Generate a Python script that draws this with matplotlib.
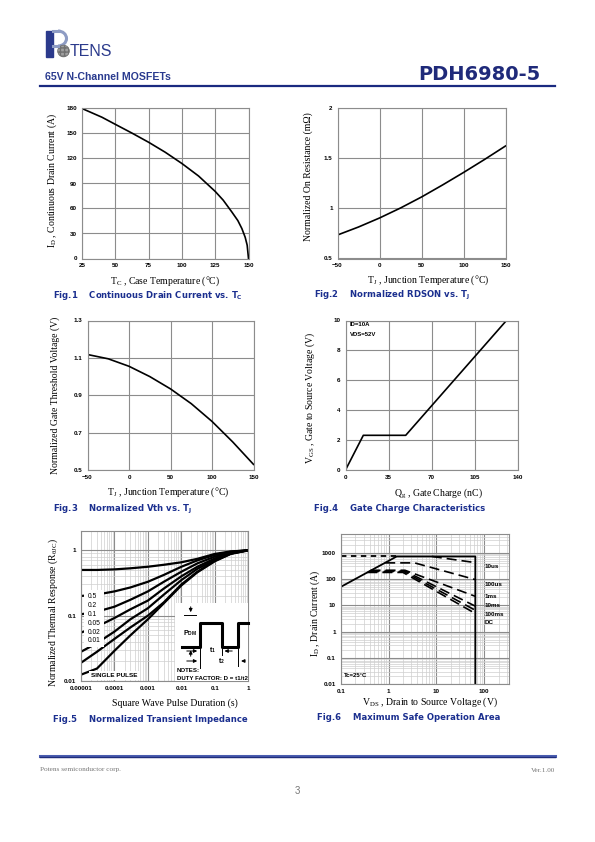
import matplotlib
matplotlib.use('Agg')
from matplotlib import pyplot as plt
from matplotlib.patches import Rectangle, Circle, Arc
from matplotlib.ticker import LogLocator, NullFormatter

plt.rcParams['font.family'] = ['Liberation Sans', 'DejaVu Sans']
plt.rcParams['mathtext.fontset'] = 'custom'
plt.rcParams['mathtext.rm'] = 'Liberation Serif'
plt.rcParams['mathtext.it'] = 'Liberation Serif:italic'
plt.rcParams['mathtext.bf'] = 'DejaVu Sans:bold'
plt.rcParams['mathtext.sf'] = 'Liberation Sans:bold'

# Fig.1 continuous drain current vs case temperature
tc = [25, 40, 50, 62.5, 75, 87.5, 100, 112.5, 125, 131, 137.5, 142, 145, 147.5, 149, 150]
id_cont = [180, 169.5, 161, 150.5, 139.5, 127.5, 114, 99, 80.5, 70, 55.8, 45.5, 36, 25.5, 16, 0]

# Fig.2 normalized RDSON / Fig.3 normalized Vth vs junction temperature
tj = [-50, -25, 0, 25, 50, 75, 100, 125, 150]
rdson = [0.735, 0.815, 0.905, 1.005, 1.115, 1.235, 1.36, 1.49, 1.625]
vth = [1.118, 1.095, 1.055, 1.0, 0.934, 0.855, 0.76, 0.65, 0.53]

# Fig.4 gate charge
qg = [0, 14.5, 49, 131]
vgs = [0, 2.32, 2.32, 10]

# Fig.5 transient thermal impedance
t_pulse = [1e-5, 3e-5, 1e-4, 3e-4, 1e-3, 3e-3, 1e-2, 3e-2, 0.1, 0.3, 1]
z_d05 = [0.50, 0.50, 0.51, 0.53, 0.56, 0.60, 0.655, 0.74, 0.88, 0.96, 1.0]
z_d02 = [0.20, 0.21, 0.235, 0.27, 0.33, 0.42, 0.56, 0.70, 0.85, 0.95, 1.0]
z_d01 = [0.105, 0.115, 0.137, 0.175, 0.235, 0.33, 0.47, 0.63, 0.80, 0.93, 1.0]
z_d005 = [0.055, 0.068, 0.092, 0.125, 0.17, 0.26, 0.40, 0.56, 0.75, 0.91, 1.0]
z_d002 = [0.028, 0.038, 0.057, 0.088, 0.13, 0.21, 0.35, 0.52, 0.71, 0.89, 1.0]
z_d001 = [0.019, 0.028, 0.044, 0.066, 0.10, 0.16, 0.30, 0.47, 0.69, 0.89, 1.0]
z_single = [0.0125, 0.0155, 0.029, 0.05, 0.088, 0.155, 0.29, 0.46, 0.68, 0.88, 1.0]
duty_labels = ['0.5', '0.2', '0.1', '0.05', '0.02', '0.01']

# Fig.6 safe operating area
soa_v = [0.1, 1.48, 65, 65]
soa_i = [50, 720, 720, 0.01]
top_v = [0.1, 1.48]
top_i = [720, 720]
v_10us, i_10us = [8, 65], [720, 420]
v_100us, i_100us = [0.85, 3.5, 65], [410, 410, 95]
v_1ms, i_1ms = [0.42, 2.2, 65], [215, 215, 22]
v_10ms, i_10ms = [0.40, 2.2, 65], [200, 200, 9.3]
v_100ms, i_100ms = [0.38, 2.1, 65], [190, 190, 6.5]
v_dc, i_dc = [0.36, 2.0, 65], [178, 178, 4.9]
soa_labels = ['10us', '100us', '1ms', '10ms', '100ms', 'DC']

W, H = 595, 842
fig = plt.figure(figsize=(W / 100, H / 100), dpi=100)

NAVY = '#1b2f8f'
GRID = '#8c8c8c'
SERIF = ['Liberation Serif', 'DejaVu Serif', 'DejaVu Sans']

bg = fig.add_axes([0, 0, 1, 1])
bg.set_xlim(0, W)
bg.set_ylim(H, 0)
bg.axis('off')


def axes_px(l, t, r, b):
    return fig.add_axes([l / W, 1 - b / H, (r - l) / W, (b - t) / H])


def txt(x, y, s, **kw):
    kw.setdefault('va', 'center')
    return fig.text(x / W, 1 - y / H, s, **kw)


def style(ax, minor=False):
    for s in ax.spines.values():
        s.set_color(GRID)
        s.set_linewidth(0.8)
    ax.tick_params(which='both', length=0, pad=3.5, labelsize=4.5)
    for lab in ax.get_xticklabels() + ax.get_yticklabels():
        lab.set_fontweight('bold')
    ax.grid(which='major', color=GRID, lw=0.8)
    if minor:
        ax.grid(which='minor', color='#cfcfcf', lw=0.5)
    ax.set_axisbelow(True)


def caption(x, y, s):
    txt(x, y, s, fontsize=6.1, fontweight='bold', color=NAVY, family='DejaVu Sans')


def ylab(x, y, s):
    txt(x, y, s, rotation=90, ha='center', fontsize=7, family=SERIF)


def xlab(x, y, s):
    txt(x, y, s, ha='center', fontsize=7, family=SERIF)


# header
bg.add_patch(Rectangle((46, 31), 6.5, 26, color='#2b3a8c'))
bg.add_patch(Arc((58, 38.5), 17, 15, theta1=-90, theta2=90, color='#8e9cc4', lw=2.2))
bg.plot([52.5, 58], [31, 31], color='#8e9cc4', lw=2.2)
bg.plot([52.5, 58], [46, 46], color='#8e9cc4', lw=2.2)
bg.add_patch(Circle((63.5, 51), 5.8, fc='#a0a0a0', ec='#707070', lw=0.6, hatch='++++'))
txt(69.5, 51, 'TENS', fontsize=11.5, color='#2b3a8c')
txt(45, 76.5, '65V N-Channel MOSFETs', fontsize=7.6, fontweight='bold', color='#2a3b8f')
txt(541, 74, 'PDH6980-5', ha='right', fontsize=14, fontweight='bold', color='#1f2a7a',
    family='DejaVu Sans')
bg.plot([40, 555], [86, 86], color='#1a2a80', lw=1.6)

# Fig.1
ax1 = axes_px(82, 108.5, 248.5, 258.5)
ax1.plot(tc, id_cont, color='black', lw=1.2)
ax1.set_xlim(25, 150)
ax1.set_ylim(0, 180)
ax1.set_xticks([25, 50, 75, 100, 125, 150])
ax1.set_yticks([0, 30, 60, 90, 120, 150, 180])
style(ax1)
ylab(52, 180, r'I$_\mathrm{D}$ , Continuous Drain Current (A)')
xlab(165, 281.5, r'T$_\mathrm{C}$ , Case Temperature (°C)')
caption(53, 295, r'Fig.1    Continuous Drain Current vs. T$_\mathbf{C}$')

# Fig.2
ax2 = axes_px(337.5, 108.5, 505.5, 258.5)
ax2.plot(tj, rdson, color='black', lw=1.2)
ax2.set_xlim(-50, 150)
ax2.set_ylim(0.5, 2)
ax2.set_xticks([-50, 0, 50, 100, 150])
ax2.set_yticks([0.5, 1, 1.5, 2])
ax2.set_yticklabels(['0.5', '1', '1.5', '2'])
style(ax2)
ylab(308, 177, 'Normalized On Resistance (mΩ)')
xlab(428, 280, r'T$_\mathrm{J}$ , Junction Temperature (°C)')
caption(314, 295, r'Fig.2    Normalized RDSON vs. T$_\mathbf{J}$')

# Fig.3
ax3 = axes_px(87.5, 320.5, 253.5, 470)
ax3.plot(tj, vth, color='black', lw=1.2)
ax3.set_xlim(-50, 150)
ax3.set_ylim(0.5, 1.3)
ax3.set_xticks([-50, 0, 50, 100, 150])
ax3.set_yticks([0.5, 0.7, 0.9, 1.1, 1.3])
style(ax3)
ylab(55, 395, 'Normalized Gate Threshold Voltage (V)')
xlab(168, 492.5, r'T$_\mathrm{J}$ , Junction Temperature (°C)')
caption(53, 508.5, r'Fig.3    Normalized Vth vs. T$_\mathbf{J}$')

# Fig.4
ax4 = axes_px(345.5, 320.5, 517.5, 470)
ax4.plot(qg, vgs, color='black', lw=1.2)
ax4.set_xlim(0, 140)
ax4.set_ylim(0, 10)
ax4.set_xticks([0, 35, 70, 105, 140])
ax4.set_yticks([0, 2, 4, 6, 8, 10])
style(ax4)
txt(350, 325, 'ID=10A', fontsize=4.3, fontweight='bold')
txt(350, 334, 'VDS=52V', fontsize=4.3, fontweight='bold')
ylab(310, 398, r'V$_\mathrm{GS}$ , Gate to Source Voltage (V)')
xlab(438, 492.5, r'Q$_\mathrm{g}$ , Gate Charge (nC)')
caption(314, 508.5, 'Fig.4    Gate Charge Characteristics')

# Fig.5
ax5 = axes_px(81, 530.6, 248.3, 681)
for z in [z_d05, z_d02, z_d01, z_d005, z_d002, z_d001, z_single]:
    ax5.plot(t_pulse, z, color='black', lw=1.6, zorder=2)
ax5.set_xscale('log')
ax5.set_yscale('log')
ax5.set_xlim(1e-5, 1)
ax5.set_ylim(0.01, 2)
ax5.set_xticks([1e-5, 1e-4, 1e-3, 1e-2, 1e-1, 1])
ax5.set_xticklabels(['0.00001', '0.0001', '0.001', '0.01', '0.1', '1'])
ax5.set_yticks([0.01, 0.1, 1])
ax5.set_yticklabels(['0.01', '0.1', '1'])
for a in (ax5.xaxis, ax5.yaxis):
    a.set_minor_locator(LogLocator(base=10, subs=range(2, 10), numticks=20))
    a.set_minor_formatter(NullFormatter())
style(ax5, minor=True)
ax5.add_patch(Rectangle((1.25e-5, 0.033), 5e-5 - 1.25e-5, 0.25 - 0.033,
                        fc='white', ec='none', zorder=3))
for lab, yy in zip(duty_labels, [596.5, 605.5, 614.5, 623.5, 632, 641]):
    txt(88, yy, lab, fontsize=4.8)
txt(91, 675.5, 'SINGLE PULSE', fontsize=4.6, fontweight='bold',
    bbox=dict(fc='white', ec='none', pad=1.2))

ins = axes_px(175, 603, 248.3, 681)
ins.set_xlim(175, 248.3)
ins.set_ylim(681, 603)
ins.set_xticks([])
ins.set_yticks([])
for s in ins.spines.values():
    s.set_visible(False)
ins.plot([182, 200, 200, 221.7, 221.7, 238.3, 238.3, 248],
         [646.7, 646.7, 623.3, 623.3, 646.7, 646.7, 623.3, 623.3],
         color='black', lw=2.2, clip_on=False)
arr = dict(arrowstyle='-|>', color='black', lw=0.7, mutation_scale=5)
ins.annotate('', xy=(190.7, 615), xytext=(190.7, 604), arrowprops=arr)
ins.plot([184, 196], [615, 615], color='black', lw=0.7)
ins.annotate('', xy=(190.7, 647.5), xytext=(190.7, 659), arrowprops=arr)
ins.plot([200, 200], [647, 668], color='black', lw=0.7)
ins.plot([221.7, 221.7], [647, 655], color='black', lw=0.7)
ins.plot([238.3, 238.3], [647, 666], color='black', lw=0.7)
ins.annotate('', xy=(200, 651), xytext=(184, 651), arrowprops=arr)
ins.annotate('', xy=(221.7, 651), xytext=(235, 651), arrowprops=arr)
ins.annotate('', xy=(200, 661), xytext=(184, 661), arrowprops=arr)
ins.annotate('', xy=(238.3, 661), xytext=(248, 661), arrowprops=arr)
ins.text(183, 633, r'P$_\mathsf{DM}$', fontsize=5, fontweight='bold', va='center')
ins.text(209, 650.5, r't$_\mathsf{1}$', fontsize=5, fontweight='bold', va='center')
ins.text(218, 661, r't$_\mathsf{2}$', fontsize=5, fontweight='bold', va='center')
ins.text(177, 671, 'NOTES:', fontsize=4.4, fontweight='bold', va='center')
ins.text(177, 679, 'DUTY FACTOR: D = t1/t2', fontsize=4.4, fontweight='bold', va='center')

ylab(53, 612, r'Normalized Thermal Response (R$_{\mathrm{θJC}}$)')
xlab(175, 703, 'Square Wave Pulse Duration (s)')
caption(53, 719, 'Fig.5    Normalized Transient Impedance')

# Fig.6
ax6 = axes_px(340.7, 534.3, 509.3, 684.3)
ax6.plot(soa_v, soa_i, color='black', lw=1.3)
ax6.plot(top_v, top_i, color='black', lw=1.3, ls=(0, (3, 2.5)))
for v, i in [(v_10us, i_10us), (v_100us, i_100us), (v_1ms, i_1ms),
             (v_10ms, i_10ms), (v_100ms, i_100ms), (v_dc, i_dc)]:
    ax6.plot(v, i, color='black', lw=1.2, ls=(0, (6, 3)))
ax6.set_xscale('log')
ax6.set_yscale('log')
ax6.set_xlim(0.1, 333)
ax6.set_ylim(0.01, 5000)
ax6.set_xticks([0.1, 1, 10, 100])
ax6.set_xticklabels(['0.1', '1', '10', '100'])
ax6.set_yticks([0.01, 0.1, 1, 10, 100, 1000])
ax6.set_yticklabels(['0.01', '0.1', '1', '10', '100', '1000'])
for a in (ax6.xaxis, ax6.yaxis):
    a.set_minor_locator(LogLocator(base=10, subs=range(2, 10), numticks=20))
    a.set_minor_formatter(NullFormatter())
style(ax6, minor=True)
for lab, yy in zip(soa_labels, [566.5, 584, 597, 605.5, 614, 622.5]):
    txt(485, yy, lab, fontsize=4.5, fontweight='bold')
txt(344, 675.5, 'Tc=25°C', fontsize=4.3, fontweight='bold')
ylab(315, 613, r'I$_\mathrm{D}$ , Drain Current (A)')
xlab(430, 702.5, r'V$_\mathrm{DS}$ , Drain to Source Voltage (V)')
caption(317, 717.5, 'Fig.6    Maximum Safe Operation Area')

# footer
bg.plot([40, 555], [755.5, 755.5], color='#4a5db0', lw=2.2)
bg.plot([40, 555], [757.2, 757.2], color='#1f2c7c', lw=1.0)
txt(40, 770, 'Potens semiconductor corp.', fontsize=5.2, color='#777777', family=SERIF)
txt(555, 770, 'Ver.1.00', ha='right', fontsize=5.2, color='#777777', family=SERIF)
txt(297.5, 791, '3', ha='center', fontsize=7, color='#777777')

fig.savefig('out.png', dpi=100)
